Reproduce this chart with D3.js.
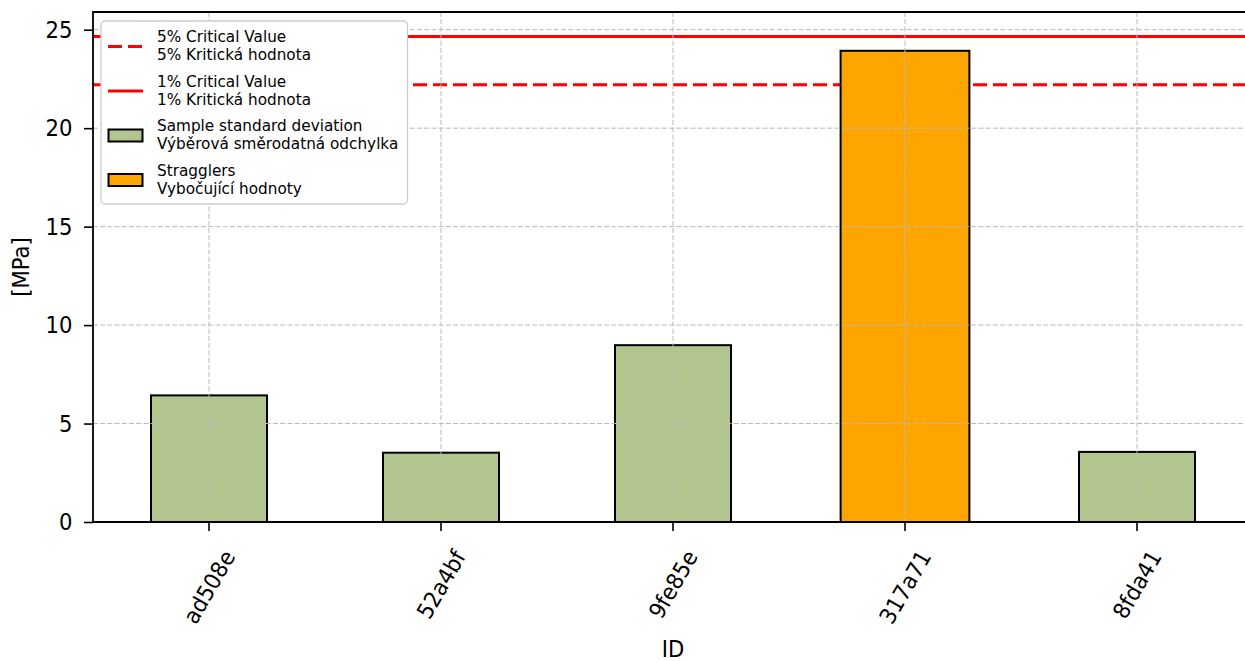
<!DOCTYPE html>
<html>
<head>
<meta charset="utf-8">
<script src="https://cdn.jsdelivr.net/npm/d3@7"></script>
<style>
  body { margin: 0; background: #fff; }
  svg { display: block; font-family: "DejaVu Sans", sans-serif; }
</style>
</head>
<body>
<svg id="chart" width="1245" height="661"></svg>
<script>
// Sample standard deviation per specimen ID, in MPa
const ids = ["ad508e", "52a4bf", "9fe85e", "317a71", "8fda41"];
const stdDev = [6.43, 3.52, 8.98, 23.93, 3.56];
const straggler = [false, false, false, true, false];

// Critical values of the test statistic
const critical5 = 22.2;
const critical1 = 24.65;

const yTicks = [0, 5, 10, 15, 20, 25];
const yMax = 25.9;

const legendItems = [
  { kind: "dash",  lines: ["5% Critical Value", "5% Kritická hodnota"] },
  { kind: "solid", lines: ["1% Critical Value", "1% Kritická hodnota"] },
  { kind: "patch", color: "#b3c58e", lines: ["Sample standard deviation", "Výběrová směrodatná odchylka"] },
  { kind: "patch", color: "#ffa500", lines: ["Stragglers", "Vybočující hodnoty"] }
];

const colNormal = "#b3c58e";
const colStraggler = "#ffa500";
const gridColor = "#b8b8b8";

// text sizing: glyphs slightly condensed horizontally
const tickFs = 22.5, tickSx = 0.94;
const legFs = 16.6, legSx = 0.92;

const svg = d3.select("#chart");
const plot = { left: 93, right: 1253, top: 12, bottom: 522 };

const x = d3.scaleBand().domain(ids).range([plot.left, plot.right]).paddingInner(0).paddingOuter(0);
const y = d3.scaleLinear().domain([0, yMax]).range([plot.bottom, plot.top]);
const cx = id => x(id) + x.bandwidth() / 2;

const rows = ids.map((id, i) => ({ id, v: stdDev[i], s: straggler[i] }));

// critical value lines (drawn beneath the bars)
svg.append("line")
  .attr("x1", plot.left).attr("x2", plot.right)
  .attr("y1", y(critical1)).attr("y2", y(critical1))
  .attr("stroke", "#ff0000").attr("stroke-width", 3);
svg.append("line")
  .attr("x1", plot.left).attr("x2", plot.right)
  .attr("y1", y(critical5)).attr("y2", y(critical5))
  .attr("stroke", "#ff0000").attr("stroke-width", 3)
  .attr("stroke-dasharray", "14,6");

// bars
svg.append("g").selectAll("rect").data(rows).join("rect")
  .attr("x", d => cx(d.id) - x.bandwidth() * (d.s ? 0.555 : 0.5) / 2)
  .attr("width", d => x.bandwidth() * (d.s ? 0.555 : 0.5))
  .attr("y", d => y(d.v))
  .attr("height", d => y(0) - y(d.v))
  .attr("fill", d => d.s ? colStraggler : colNormal)
  .attr("stroke", "#000").attr("stroke-width", 2);

// grid
const grid = svg.append("g")
  .attr("stroke", gridColor).attr("stroke-width", 1).attr("stroke-dasharray", "5,2.2");
grid.selectAll("line.h").data(yTicks.filter(t => t > 0)).join("line").attr("class", "h")
  .attr("x1", plot.left).attr("x2", plot.right)
  .attr("y1", d => y(d)).attr("y2", d => y(d));
grid.selectAll("line.v").data(ids).join("line").attr("class", "v")
  .attr("x1", d => cx(d)).attr("x2", d => cx(d))
  .attr("y1", plot.top).attr("y2", plot.bottom);

// axes
const yAxis = d3.axisLeft(y).tickValues(yTicks).tickSize(9).tickSizeOuter(0);
const gy = svg.append("g").attr("transform", `translate(${plot.left},0)`).call(yAxis);
gy.select(".domain").remove();
gy.selectAll(".tick line").attr("stroke", "#000").attr("stroke-width", 1.6);
gy.selectAll(".tick text").remove();
svg.append("g").selectAll("text").data(yTicks).join("text")
  .attr("transform", d => `translate(72.5,${y(d)}) scale(${tickSx},1)`)
  .attr("text-anchor", "end").attr("dy", "0.36em")
  .attr("font-size", tickFs).attr("fill", "#000")
  .text(d => d);

const xAxis = d3.axisBottom(x).tickSize(9).tickSizeOuter(0);
const gx = svg.append("g").attr("transform", `translate(0,${plot.bottom})`).call(xAxis);
gx.select(".domain").remove();
gx.selectAll(".tick line").attr("stroke", "#000").attr("stroke-width", 1.6);
gx.selectAll(".tick text").remove();

// rotated category labels, centred beneath each tick
const xl = svg.append("g");
ids.forEach(id => {
  const t = xl.append("text")
    .attr("font-size", tickFs).attr("fill", "#000")
    .attr("text-anchor", "middle").attr("dy", "0.36em")
    .text(id);
  const L = t.node().getComputedTextLength() * tickSx;
  const h = L * Math.sin(Math.PI / 3) + 0.76 * tickFs * Math.cos(Math.PI / 3);
  t.attr("transform", `translate(${cx(id)},${548 + h / 2}) rotate(-60) scale(${tickSx},1)`);
});

// spines
svg.append("path")
  .attr("d", `M${plot.right},${plot.top}H${plot.left}V${plot.bottom}H${plot.right}`)
  .attr("fill", "none").attr("stroke", "#000").attr("stroke-width", 1.8);

// axis titles
svg.append("text")
  .attr("transform", `translate(${(plot.left + plot.right) / 2},657) scale(${tickSx},1)`)
  .attr("text-anchor", "middle").attr("font-size", tickFs).text("ID");
svg.append("text")
  .attr("transform", `translate(29,${(plot.top + plot.bottom) / 2}) rotate(-90) scale(${tickSx},1)`)
  .attr("text-anchor", "middle").attr("font-size", tickFs).text("[MPa]");

// legend
const lg = svg.append("g");
lg.append("rect").attr("x", 101).attr("y", 21).attr("width", 306.5).attr("height", 183)
  .attr("rx", 4).attr("fill", "#fff")
  .attr("stroke", "#cccccc").attr("stroke-width", 1.3);
legendItems.forEach((it, i) => {
  const base = 42 + i * 44.5;
  const mid = base + 4.5;
  if (it.kind === "patch") {
    lg.append("rect").attr("x", 108.5).attr("y", mid - 6).attr("width", 34).attr("height", 12)
      .attr("fill", it.color).attr("stroke", "#000").attr("stroke-width", 2);
  } else {
    lg.append("line").attr("x1", 108).attr("x2", 143).attr("y1", mid).attr("y2", mid)
      .attr("stroke", "#ff0000").attr("stroke-width", 3)
      .attr("stroke-dasharray", it.kind === "dash" ? "14,6" : null);
  }
  it.lines.forEach((s, j) => {
    lg.append("text")
      .attr("transform", `translate(157,${base + j * 18.2}) scale(${legSx},1)`)
      .attr("font-size", legFs).attr("fill", "#000").text(s);
  });
});
</script>
</body>
</html>
